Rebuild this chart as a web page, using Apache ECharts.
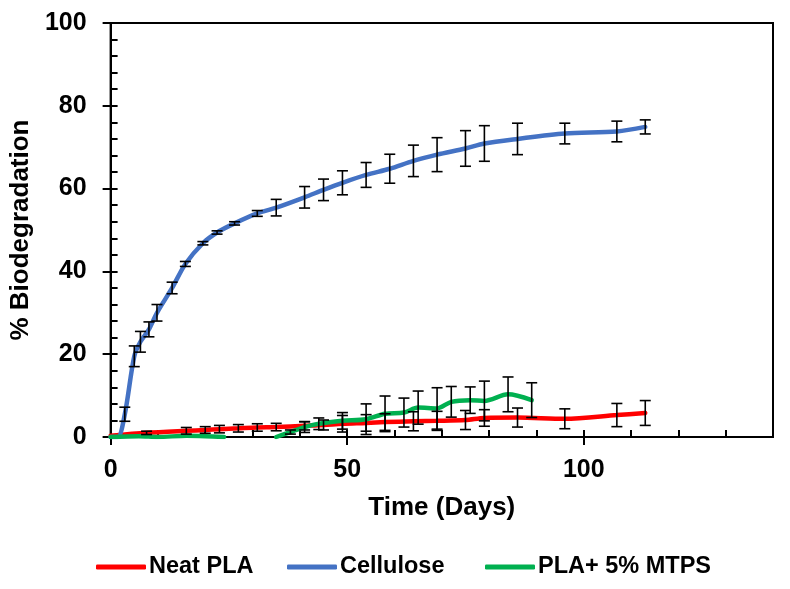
<!DOCTYPE html>
<html>
<head>
<meta charset="utf-8">
<script src="https://cdn.jsdelivr.net/npm/echarts@6/dist/echarts.min.js"></script>
<style>html,body{margin:0;padding:0;background:#fff}#c{width:790px;height:589px}</style>
</head>
<body>
<div id="c"></div>
<script>
// ---- data ----
const seriesNames = ['Neat PLA', 'Cellulose', 'PLA+ 5% MTPS'];
const xTickLabels = [0, 50, 100];
const yTickLabels = [0, 20, 40, 60, 80, 100];

const plaDays = [0, 7.6, 16, 20, 23, 27, 31, 35, 41, 45, 49, 54, 58, 64, 69, 75, 79, 86, 96, 107, 113];
const plaValues = [0.3, 1.0, 1.5, 1.7, 1.9, 2.1, 2.3, 2.4, 2.7, 2.9, 3.2, 3.4, 3.6, 3.8, 3.9, 4.1, 4.6, 4.7, 4.4, 5.3, 5.8];
const plaErr = [0, 0.4, 0.8, 0.8, 0.9, 0.9, 0.9, 0.9, 1.0, 1.2, 2.0, 2.0, 2.0, 2.3, 2.3, 2.3, 2.0, 2.3, 2.4, 2.8, 3.0];

const celDays = [0, 1.5, 3, 5, 6.3, 8.1, 9.8, 13, 15.8, 19.5, 22.5, 26.2, 31, 35, 41, 45, 49, 54, 59, 64, 69, 75, 79, 86, 96, 107, 113];
const celValues = [0, 0, 5.5, 19.5, 23, 26, 30, 36, 41.8, 46.8, 49.4, 51.6, 54, 55.4, 57.9, 59.7, 61.4, 63.3, 64.8, 66.7, 68.2, 69.7, 70.9, 72, 73.3, 73.8, 74.9];
const celErr = [0, 0, 1.7, 2.5, 2.5, 1.8, 2.0, 1.4, 0.6, 0.4, 0.4, 0.4, 0.7, 2.0, 2.6, 2.6, 2.9, 3.0, 3.5, 3.8, 4.1, 4.3, 4.3, 3.8, 2.5, 2.5, 1.7];

const mtpsDays = [0, 6, 10, 16, 20, 24, 30, 35, 38, 41, 44, 49, 54, 58, 62, 65, 69, 72, 76, 79, 84, 89];
const mtpsValues = [0, 0.2, 0, 0.3, 0.2, 0, null, 0, 1.2, 2.4, 3.2, 3.9, 4.3, 5.6, 5.9, 7.1, 6.9, 8.5, 8.9, 8.7, 10.3, 8.9];
const mtpsErr = [0, 0, 0, 0, 0, 0, 0, 0, 0.5, 1.3, 1.4, 2.0, 3.7, 4.3, 3.5, 4.0, 5.0, 3.7, 3.2, 4.8, 4.2, 4.2];

const colors = ['#FF0000', '#4472C4', '#00B050'];

// ---- build ----
function pairs(d, v) { return d.map((x, i) => [x, v[i]]); }
function errs(d, v, e) {
  const out = [];
  d.forEach((x, i) => { if (v[i] != null && e[i] > 0) out.push([x, v[i] - e[i], v[i] + e[i]]); });
  return out;
}
function errSeries(data) {
  return {
    type: 'custom', xAxisIndex: 0, yAxisIndex: 0, z: 5, clip: true, silent: true,
    data: data,
    renderItem: function (params, api) {
      const lo = api.coord([api.value(0), api.value(1)]);
      const hi = api.coord([api.value(0), api.value(2)]);
      const w = 5.5;
      const st = { stroke: '#000', lineWidth: 1.6 };
      return { type: 'group', children: [
        { type: 'line', shape: { x1: lo[0], y1: lo[1], x2: hi[0], y2: hi[1] }, style: st },
        { type: 'line', shape: { x1: lo[0] - w, y1: lo[1], x2: lo[0] + w, y2: lo[1] }, style: st },
        { type: 'line', shape: { x1: hi[0] - w, y1: hi[1], x2: hi[0] + w, y2: hi[1] }, style: st }
      ]};
    }
  };
}
function lineSeries(name, data, color) {
  return {
    name: name, type: 'line', xAxisIndex: 0, yAxisIndex: 0, data: data, smooth: 0.3,
    symbol: 'none', z: 3, connectNulls: false,
    lineStyle: { color: color, width: 4.5, cap: 'round' }, itemStyle: { color: color }
  };
}
const font = 'Liberation Sans, Arial, sans-serif';
const lab = { color: '#000', fontWeight: 'bold', fontSize: 25, fontFamily: font };
const axLine = { show: true, lineStyle: { color: '#000', width: 2 } };

function legendAt(left, name) {
  return {
    left: left, top: 555, padding: 0, data: [name], icon: 'roundRect', itemWidth: 50, itemHeight: 5,
    textStyle: { color: '#000', fontWeight: 'bold', fontSize: 23.5, fontFamily: font, padding: [0, 0, 0, -2] },
    selectedMode: false
  };
}

const chart = echarts.init(document.getElementById('c'), null, { renderer: 'canvas' });
chart.setOption({
  animation: false,
  backgroundColor: '#fff',
  grid: { left: 109, right: 17, top: 23, bottom: 152, show: true, borderColor: '#000', borderWidth: 2, backgroundColor: 'transparent' },
  legend: [legendAt(96, seriesNames[0]), legendAt(287, seriesNames[1]), legendAt(485, seriesNames[2])],
  xAxis: [
    { type: 'value', min: 0, max: 140, interval: 50, position: 'bottom',
      name: 'Time (Days)', nameLocation: 'middle', nameGap: 58,
      nameTextStyle: { color: '#000', fontWeight: 'bold', fontSize: 26, fontFamily: font },
      axisLine: axLine, splitLine: { show: false },
      axisTick: { show: true, inside: false, length: 8, customValues: xTickLabels, lineStyle: { color: '#000', width: 2 } },
      axisLabel: Object.assign({ margin: 21, customValues: xTickLabels }, lab) },
    { type: 'value', min: 0, max: 140, interval: 10, position: 'bottom',
      axisLine: { show: false }, splitLine: { show: false }, axisLabel: { show: false },
      axisTick: { show: true, inside: true, length: 7, lineStyle: { color: '#000', width: 2 } } }
  ],
  yAxis: [
    { type: 'value', min: 0, max: 100, interval: 20, position: 'left',
      name: '% Biodegradation', nameLocation: 'middle', nameGap: 73, nameRotate: 90,
      nameTextStyle: { color: '#000', fontWeight: 'bold', fontSize: 26, fontFamily: font },
      axisLine: axLine, splitLine: { show: false },
      axisTick: { show: true, inside: false, length: 8, lineStyle: { color: '#000', width: 2 } },
      axisLabel: Object.assign({ margin: 24, customValues: yTickLabels }, lab) },
    { type: 'value', min: 0, max: 100, interval: 4, position: 'left',
      axisLine: { show: false }, splitLine: { show: false }, axisLabel: { show: false },
      axisTick: { show: true, inside: true, length: 7, lineStyle: { color: '#000', width: 2 } } }
  ],
  series: [
    lineSeries(seriesNames[0], pairs(plaDays, plaValues), colors[0]),
    lineSeries(seriesNames[1], pairs(celDays, celValues), colors[1]),
    lineSeries(seriesNames[2], pairs(mtpsDays, mtpsValues), colors[2]),
    errSeries(errs(plaDays, plaValues, plaErr)),
    errSeries(errs(celDays, celValues, celErr)),
    errSeries(errs(mtpsDays, mtpsValues, mtpsErr))
  ]
});
</script>
</body>
</html>
